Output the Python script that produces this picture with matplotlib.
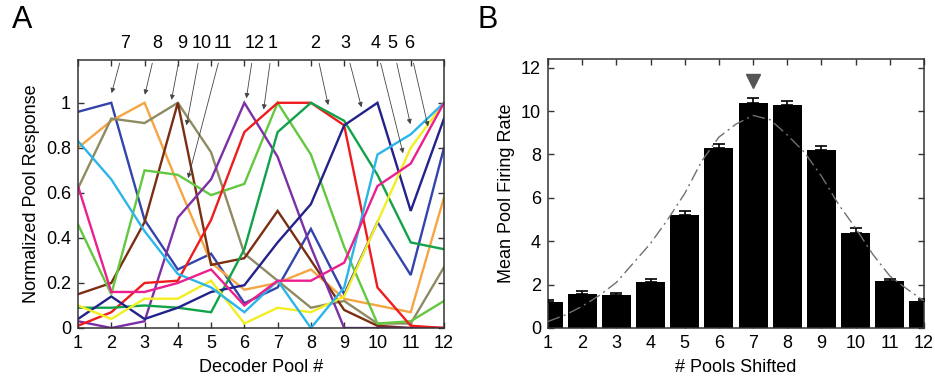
import matplotlib
matplotlib.use("Agg")
import matplotlib.pyplot as plt
import numpy as np

plt.rcParams['font.family'] = ['Liberation Sans', 'DejaVu Sans']

# ---------------- Panel A data ----------------
pools = list(range(1, 13))
pool_labels = [str(p) for p in pools]

line_names = ["7", "8", "9", "10", "11", "12", "1", "2", "3", "4", "5", "6"]
line_colors = ["#3344aa", "#f5a543", "#8e8b62", "#7a2e12", "#63c840", "#7d2fa6",
               "#ee1c1c", "#12a24a", "#22228a", "#f2ee22", "#2bb5e8", "#ec1f8e"]
resp_7  = [0.96, 1.00, 0.48, 0.26, 0.33, 0.11, 0.18, 0.44, 0.15, 0.47, 0.235, 0.80]
resp_8  = [0.80, 0.92, 1.00, 0.64, 0.29, 0.17, 0.20, 0.26, 0.13, 0.10, 0.07, 0.58]
resp_9  = [0.62, 0.93, 0.91, 1.00, 0.78, 0.33, 0.21, 0.09, 0.12, 0.02, 0.02, 0.27]
resp_10 = [0.15, 0.20, 0.47, 1.00, 0.28, 0.31, 0.52, 0.30, 0.08, 0.01, 0.00, 0.00]
resp_11 = [0.46, 0.15, 0.70, 0.68, 0.59, 0.64, 1.00, 0.77, 0.36, 0.02, 0.03, 0.12]
resp_12 = [0.03, 0.00, 0.03, 0.49, 0.66, 1.00, 0.76, 0.36, 0.00, 0.00, 0.00, 0.00]
resp_1  = [0.01, 0.07, 0.20, 0.21, 0.48, 0.87, 1.00, 1.00, 0.90, 0.18, 0.01, 0.00]
resp_2  = [0.09, 0.09, 0.10, 0.09, 0.07, 0.35, 0.87, 1.00, 0.92, 0.68, 0.38, 0.35]
resp_3  = [0.04, 0.14, 0.04, 0.09, 0.16, 0.19, 0.38, 0.55, 0.90, 1.00, 0.52, 0.93]
resp_4  = [0.10, 0.04, 0.13, 0.13, 0.21, 0.02, 0.09, 0.07, 0.14, 0.47, 0.80, 1.00]
resp_5  = [0.83, 0.66, 0.43, 0.24, 0.18, 0.07, 0.21, 0.00, 0.18, 0.77, 0.86, 1.00]
resp_6  = [0.63, 0.16, 0.16, 0.20, 0.26, 0.10, 0.21, 0.21, 0.29, 0.63, 0.73, 1.00]
responses = [resp_7, resp_8, resp_9, resp_10, resp_11, resp_12,
             resp_1, resp_2, resp_3, resp_4, resp_5, resp_6]

# annotation: label text position and arrow head (data coords)
label_x = [2.41, 3.37, 4.13, 4.72, 5.37, 6.31, 6.85, 8.12, 9.02, 9.95, 10.45, 10.95]
label_y = 1.262
head_x = [2.01, 3.01, 3.81, 4.26, 4.31, 6.06, 6.58, 8.52, 9.52, 10.77, 10.99, 11.52]
head_y = [1.043, 1.036, 1.013, 0.90, 0.665, 1.02, 0.97, 0.99, 0.98, 0.776, 0.905, 0.895]

# ---------------- Panel B data ----------------
shifts = list(range(1, 13))
firing_rate = [1.20, 1.55, 1.50, 2.12, 5.22, 8.28, 10.38, 10.30, 8.20, 4.38, 2.15, 1.23]
firing_err  = [0.10, 0.15, 0.12, 0.14, 0.17, 0.18, 0.20, 0.18, 0.18, 0.22, 0.12, 0.10]
fit_x = [1, 1.5, 2, 2.5, 3, 3.5, 4, 4.5, 5, 5.5, 6, 6.5, 7, 7.5, 8, 8.5,
         9, 9.5, 10, 10.5, 11, 11.5, 12]
fit_y = [0.30, 0.60, 1.00, 1.50, 2.10, 3.00, 3.90, 5.00, 6.20, 7.70, 8.80, 9.40,
         9.80, 9.60, 8.90, 8.10, 7.00, 5.70, 4.60, 3.40, 2.40, 1.80, 1.25]
peak_shift = 7
peak_marker_y = 11.37

fig = plt.figure(figsize=(9.35, 3.85), dpi=100)
axA = fig.add_axes([78/935, 57/385, 366/935, 268/385])
axB = fig.add_axes([548/935, 57/385, 376/935, 269/385])

FS = 13
# ---- A ----
for vals, col in zip(responses, line_colors):
    axA.plot(pools, vals, color=col, lw=1.7, solid_joinstyle='miter')
axA.set_xlim(1, 12)
axA.set_ylim(0, 1.19)
axA.set_xticks(pools)
axA.set_xticklabels(pool_labels)
axA.set_yticks([0, 0.2, 0.4, 0.6, 0.8, 1.0])
axA.set_yticklabels(["0", "0.2", "0.4", "0.6", "0.8", "1"])
axA.set_xlabel("Decoder Pool #", fontsize=FS, labelpad=5)
axA.set_ylabel("Normalized Pool Response", fontsize=FS, labelpad=4)
for name, tx, hx, hy in zip(line_names, label_x, head_x, head_y):
    axA.annotate(name, xy=(hx, hy), xytext=(tx, label_y), ha='center', va='center',
                 fontsize=FS, annotation_clip=False,
                 arrowprops=dict(arrowstyle='-|>', color='#444444', lw=0.6,
                                 mutation_scale=7, shrinkA=6, shrinkB=0))

# ---- B ----
axB.bar(shifts, firing_rate, width=0.85, color='black', zorder=2)
axB.errorbar(shifts, firing_rate, yerr=[[0]*12, firing_err], fmt='none',
             ecolor='black', elinewidth=1.2, capsize=4, capthick=1.2, zorder=3)
axB.plot(fit_x, fit_y, color='#707070', lw=1.0, ls=(0, (9, 3, 1.5, 3)), zorder=4)
axB.plot([peak_shift], [peak_marker_y], marker='v', color='#555555',
         markersize=10, ls='none', clip_on=False, zorder=5)
axB.set_xlim(1, 12)
axB.set_ylim(0, 12.4)
axB.set_xticks(shifts)
axB.set_yticks([0, 2, 4, 6, 8, 10, 12])
axB.set_xlabel("# Pools Shifted", fontsize=FS, labelpad=5)
axB.set_ylabel("Mean Pool Firing Rate", fontsize=FS, labelpad=4)

for ax in (axA, axB):
    ax.tick_params(direction='in', top=True, right=True, length=4, width=1,
                   labelsize=FS, color='#333333', pad=5)
    for s in ax.spines.values():
        s.set_color('#333333')
        s.set_linewidth(1.1)

fig.text(12/935, 1 - 20/385, "A", fontsize=22, va='center', ha='left')
fig.text(478/935, 1 - 20/385, "B", fontsize=22, va='center', ha='left')

fig.savefig("out.png", dpi=100)
